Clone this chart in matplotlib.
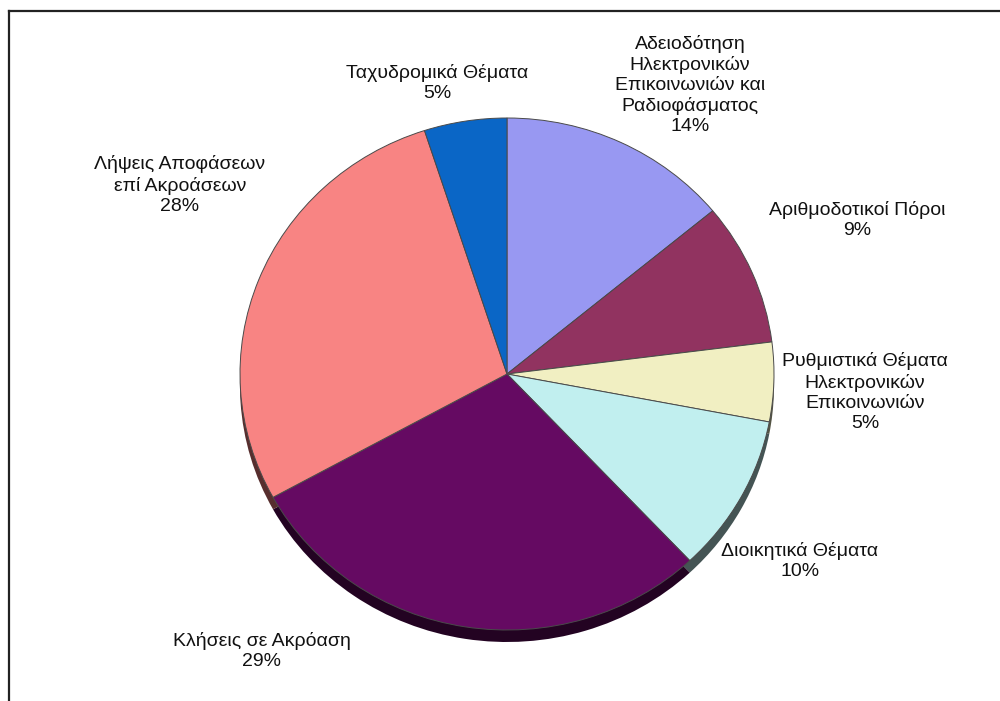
import numpy as np
import matplotlib.pyplot as plt
import matplotlib.colors as mcolors
from matplotlib.lines import Line2D

# data
labels = ['Αδειοδότηση\nΗλεκτρονικών\nΕπικοινωνιών και\nΡαδιοφάσματος',
          'Αριθμοδοτικοί Πόροι',
          'Ρυθμιστικά Θέματα\nΗλεκτρονικών\nΕπικοινωνιών',
          'Διοικητικά Θέματα',
          'Κλήσεις σε Ακρόαση',
          'Λήψεις Αποφάσεων\nεπί Ακροάσεων',
          'Ταχυδρομικά Θέματα']
values = [14, 9, 5, 10, 29, 28, 5]
colors = ['#9898F2', '#913360', '#F1EFC2', '#C1EFEF', '#650A62', '#F88483', '#0A66C6']

# pixel layout of the reference
cx, cy, rx, ry = 507, 374, 267, 256
W, H = 1000, 701


def px(x, y):
    return (x - cx) / rx, (cy - y) / ry


label_pos = [(690, 85), (857, 220), (865, 392), (800, 561),
             (262, 651), (180, 185), (437, 83)]

plt.rcParams['font.family'] = ['Liberation Sans', 'DejaVu Sans']

fig = plt.figure(figsize=(10, 7.01), dpi=100)
ax = fig.add_axes([0, 0, 1, 1])

# shadow under the pie
dark = [tuple(np.array(mcolors.to_rgb(c)) * 0.35) for c in colors]
ax.pie(values, colors=dark, startangle=90, counterclock=False,
       center=(0, -12 / ry), radius=1, frame=True,
       wedgeprops={'linewidth': 0})

ax.pie(values, colors=colors, startangle=90, counterclock=False,
       center=(0, 0), radius=1, frame=True,
       wedgeprops={'linewidth': 0.7, 'edgecolor': '#4a4a4a'})
ax.set_xlim(-cx / rx, (W - cx) / rx)
ax.set_ylim((cy - H) / ry, cy / ry)
ax.set_aspect('auto')
ax.axis('off')

for lab, v, (lx, ly) in zip(labels, values, label_pos):
    x, y = px(lx, ly)
    ax.text(x, y, f'{lab}\n{v}%', ha='center', va='center',
            fontsize=14, linespacing=1.23, color='#111111')

# frame (left and top edges only are inside the picture)
fig.add_artist(Line2D([9 / W, 9 / W], [0, 1 - 11 / H], transform=fig.transFigure,
                      color='#222222', linewidth=1.6))
fig.add_artist(Line2D([9 / W, 1], [1 - 11 / H, 1 - 11 / H], transform=fig.transFigure,
                      color='#222222', linewidth=1.6))

fig.savefig('out.png', dpi=100)
